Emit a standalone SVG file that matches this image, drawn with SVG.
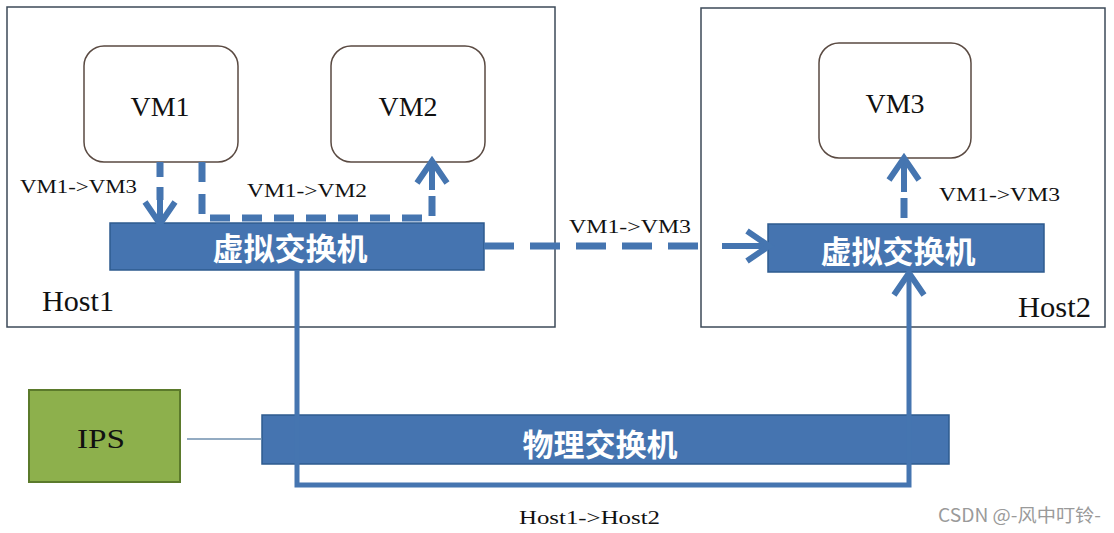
<svg xmlns="http://www.w3.org/2000/svg" width="1114" height="533" viewBox="0 0 1114 533">
<style>
.host{fill:#fff;stroke:#3c4a58;stroke-width:1.5}
.vm{fill:#fff;stroke:#5a4a42;stroke-width:1.5}
.sw{fill:#4574b0;stroke:#2e5b8f;stroke-width:1.5}
.ips{fill:#8db04c;stroke:#5b7a2b;stroke-width:2}
.lbl{font-family:"Liberation Serif","Times New Roman",serif;fill:#111}
.vmt{font-size:28px;text-anchor:middle}
.small{font-size:19px}
.cn{font-family:"Noto Sans CJK SC","Noto Sans",sans-serif;font-weight:bold;font-size:31px;fill:#fff;text-anchor:middle}
.dash{fill:none;stroke:#4575b0;stroke-width:7}
.solid{fill:none;stroke:#4575b0;stroke-width:6}
.wm{font-family:"Noto Sans CJK SC","Liberation Sans",sans-serif;font-size:18px;fill:#9a9a9a}
</style>
<defs>
<marker id="chev" markerUnits="userSpaceOnUse" viewBox="-30 -20 40 40" markerWidth="40" markerHeight="40" refX="-3" refY="0" orient="auto">
<path d="M-22,-15 L0,0 L-22,15" fill="none" stroke="#4575b0" stroke-width="6"/>
</marker>
</defs>
<rect width="1114" height="533" fill="#fff"/>
<g id="host1">
<rect class="host" x="7" y="7" width="548" height="320"/>
<text class="lbl" x="42" y="311" font-size="29" textLength="72" lengthAdjust="spacingAndGlyphs">Host1</text>
</g>
<g id="host2">
<rect class="host" x="701" y="8" width="404" height="319"/>
<text class="lbl" x="1018" y="317" font-size="29" textLength="73" lengthAdjust="spacingAndGlyphs">Host2</text>
</g>
<g id="vm1">
<rect class="vm" x="84" y="46" width="154" height="116" rx="20"/>
<text class="lbl vmt" x="160" y="116">VM1</text>
</g>
<g id="vm2">
<rect class="vm" x="331" y="46" width="154" height="116" rx="20"/>
<text class="lbl vmt" x="408" y="116">VM2</text>
</g>
<g id="vm3">
<rect class="vm" x="819" y="43" width="152" height="115" rx="20"/>
<text class="lbl vmt" x="895" y="113">VM3</text>
</g>
<g id="vswitch1">
<rect class="sw" x="110" y="223" width="374" height="47"/>
<text class="cn" x="290" y="260">虚拟交换机</text>
</g>
<g id="vswitch2">
<rect class="sw" x="768" y="224" width="276" height="48"/>
<text class="cn" x="898" y="263">虚拟交换机</text>
</g>
<g id="ips">
<rect class="ips" x="29" y="390" width="151" height="92"/>
<text class="lbl" x="77" y="448" font-size="27" textLength="48" lengthAdjust="spacingAndGlyphs">IPS</text>
</g>
<g id="pswitch">
<rect class="sw" x="262" y="415" width="687" height="49"/>
<text class="cn" x="600" y="456">物理交换机</text>
</g>
<g id="connectors">
<line x1="187" y1="439" x2="262" y2="439" stroke="#6f8fae" stroke-width="1.5"/>
<line class="dash" x1="160" y1="162" x2="160" y2="200" stroke-dasharray="15 10"/>
<line class="solid" x1="160" y1="196" x2="160" y2="221" marker-end="url(#chev)"/>
<path class="dash" d="M202,162 V218 H432 V196" stroke-dasharray="20 12"/>
<line class="solid" x1="432" y1="190" x2="432" y2="164" marker-end="url(#chev)"/>
<line class="dash" x1="484" y1="246" x2="700" y2="246" stroke-dasharray="30 16"/>
<line class="solid" x1="722" y1="246" x2="766" y2="246" marker-end="url(#chev)"/>
<line class="dash" x1="904" y1="218" x2="904" y2="198"/>
<line class="solid" x1="904" y1="192" x2="904" y2="161" marker-end="url(#chev)"/>
<path d="M297,270 V485 H909 V276" fill="none" stroke="#4575b0" stroke-width="5" marker-end="url(#chev)"/>
</g>
<g id="labels">
<text class="lbl small" x="20" y="193" textLength="117" lengthAdjust="spacingAndGlyphs">VM1-&gt;VM3</text>
<text class="lbl small" x="247" y="197" textLength="120" lengthAdjust="spacingAndGlyphs">VM1-&gt;VM2</text>
<text class="lbl small" x="569" y="233" textLength="122" lengthAdjust="spacingAndGlyphs">VM1-&gt;VM3</text>
<text class="lbl small" x="939" y="201" textLength="121" lengthAdjust="spacingAndGlyphs">VM1-&gt;VM3</text>
<text class="lbl small" x="519" y="524" textLength="141" lengthAdjust="spacingAndGlyphs">Host1-&gt;Host2</text>
<text class="wm" x="938" y="522" textLength="163" lengthAdjust="spacingAndGlyphs">CSDN @-风中叮铃-</text>
</g>
</svg>
